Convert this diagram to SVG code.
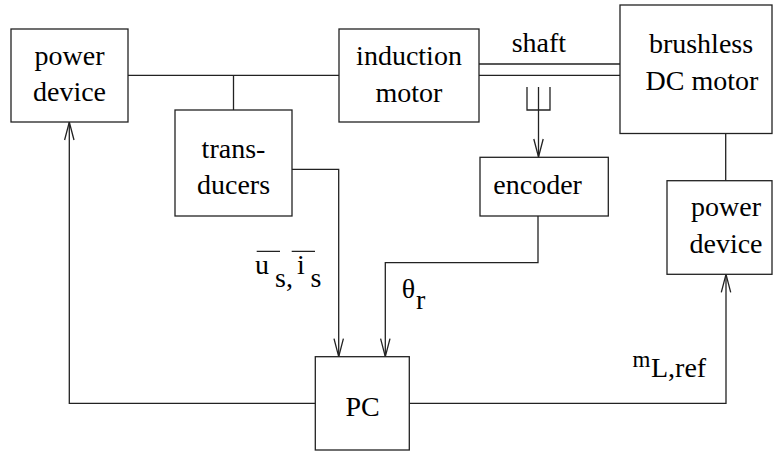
<svg xmlns="http://www.w3.org/2000/svg" width="774" height="451" viewBox="0 0 774 451">
<style>
.box{fill:#fff;stroke:#222;stroke-width:1.3}
.ln{fill:none;stroke:#222;stroke-width:1.3}
text{font-family:'Liberation Serif','Times New Roman','DejaVu Serif',serif;font-size:28px;fill:#000}
.c{text-anchor:middle}
</style>
<defs>
<marker id="arr" markerUnits="userSpaceOnUse" markerWidth="24" markerHeight="14" refX="0" refY="0" viewBox="-20 -7 24 14" orient="auto" overflow="visible">
<path d="M-18,-4.7 L0,0 L-18,4.7" fill="none" stroke="#222" stroke-width="1.3"/>
</marker>
</defs>
<rect width="774" height="451" fill="#fff"/>
<g id="connectors">
<path class="ln" d="M128,75.3 H339"/>
<path class="ln" d="M233.5,75.3 V110"/>
<path class="ln" d="M479,64 H620 M479,75.3 H620"/>
<path class="ln" d="M527,87 V110 H550 V87"/>
<path class="ln" d="M538.5,87 V157" marker-end="url(#arr)"/>
<path class="ln" d="M725.7,133.5 V180.7"/>
<path class="ln" d="M292,169.3 H338.7 V356.7" marker-end="url(#arr)"/>
<path class="ln" d="M538,216 V262.7 H385.3 V356.7" marker-end="url(#arr)"/>
<path class="ln" d="M315.3,403.3 H69.3 V122" marker-end="url(#arr)"/>
<path class="ln" d="M409.3,403.3 H726 V274.3" marker-end="url(#arr)"/>
</g>
<g id="power_device_left">
<rect class="box" x="11" y="29" width="117" height="93"/>
<text class="c" x="69.5" y="65">power</text>
<text class="c" x="69.5" y="101">device</text>
</g>
<g id="transducers">
<rect class="box" x="175" y="110" width="117" height="106"/>
<text class="c" x="233.5" y="158">trans-</text>
<text class="c" x="233.5" y="194">ducers</text>
</g>
<g id="induction_motor">
<rect class="box" x="339" y="29" width="140" height="93"/>
<text class="c" x="409" y="65">induction</text>
<text class="c" x="409" y="101.5">motor</text>
</g>
<g id="shaft_label">
<text x="511.7" y="51.7">shaft</text>
</g>
<g id="brushless_dc_motor">
<rect class="box" x="620" y="5" width="152" height="128.5"/>
<text class="c" x="701" y="52.7">brushless</text>
<text class="c" x="702" y="90">DC motor</text>
</g>
<g id="encoder">
<rect class="box" x="480" y="157.3" width="128.3" height="58.7"/>
<text x="493.3" y="193.5">encoder</text>
</g>
<g id="power_device_right">
<rect class="box" x="667" y="180.7" width="105" height="93.6"/>
<text class="c" x="726" y="216">power</text>
<text class="c" x="726" y="252.7">device</text>
</g>
<g id="pc">
<rect class="box" x="315.3" y="356.7" width="94" height="93.3"/>
<text class="c" x="362.5" y="416">PC</text>
</g>
<g id="labels">
<text x="255" y="274.3">u<tspan x="275" dy="12.4">s,</tspan><tspan x="297" dy="-12.4">i</tspan><tspan x="310.5" dy="12.4">s</tspan></text>
<path class="ln" d="M256.7,251.3 H280 M291.7,251.3 H315"/>
<text x="401.7" y="298">θ<tspan x="416" dy="11">r</tspan></text>
<text x="632.5" y="366.7"><tspan font-size="23">m</tspan><tspan x="651" dy="10.6">L,ref</tspan></text>
</g>
</svg>
